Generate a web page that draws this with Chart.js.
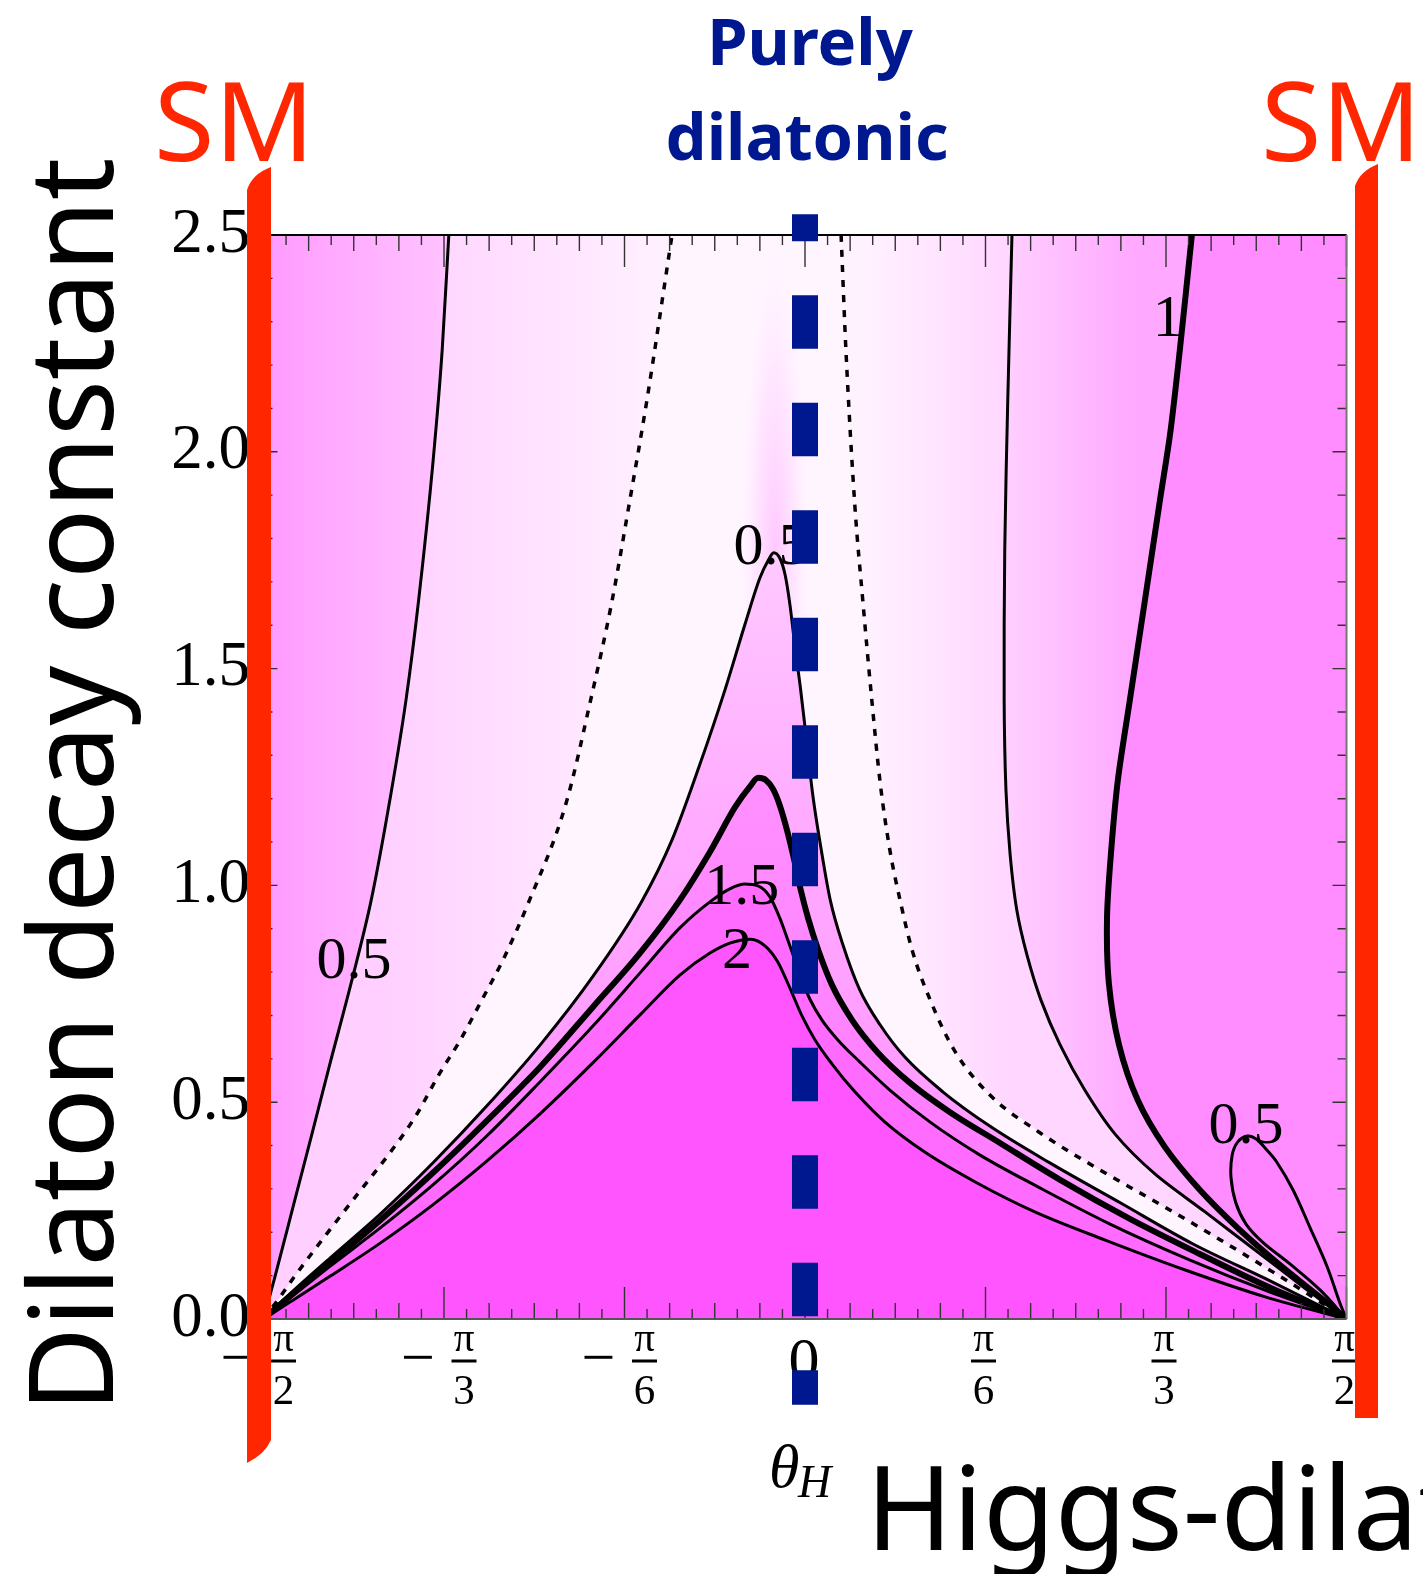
<!DOCTYPE html>
<html><head><meta charset="utf-8">
<script src="https://cdn.jsdelivr.net/npm/chart.js@4.4.1/dist/chart.umd.min.js"></script>
<style>html,body{margin:0;padding:0;background:#fff;overflow:hidden}#wrap{position:relative;width:1423px;height:1574px}</style>
</head><body><div id="wrap"><canvas id="c" width="1423" height="1574"></canvas></div>
<script>
// ---- axes (θ_H in degrees, dilaton decay constant) ----
const X_MIN = -90, X_MAX = 90, Y_MIN = 0, Y_MAX = 2.5;
const xTickValues = [-90, -60, -30, 0, 30, 60, 90];
const xTickNumer  = ['π', 'π', 'π', '0', 'π', 'π', 'π'];
const xTickDenom  = ['2', '3', '6', '', '6', '3', '2'];
const xTickNeg    = [true, true, true, false, false, false, false];
const yTickValues = [0, 0.5, 1, 1.5, 2, 2.5];
const yTickLabels = ['0.0', '0.5', '1.0', '1.5', '2.0', '2.5'];

// ---- contour curves [θ_H(deg), decay constant] ----
const contourA05 = [[-90,0],[-88.1,0.097],[-84.8,0.274],[-81.9,0.429],[-79.1,0.581],[-75.3,0.782],[-72.1,0.966],[-69.0,1.197],[-66.3,1.429],[-64.2,1.660],[-61.8,1.981],[-60.3,2.235],[-59.2,2.5]];
const dottedLeft = [[-90,0],[-87.6,0.044],[-84.9,0.097],[-79.4,0.198],[-73.8,0.298],[-69.0,0.383],[-64.8,0.466],[-60.7,0.567],[-57.3,0.643],[-53.7,0.736],[-50.2,0.828],[-46.0,0.959],[-39.7,1.190],[-35.6,1.429],[-32.1,1.654],[-29.1,1.889],[-26.3,2.117],[-22.1,2.5]];
const contourC05 = [[-90,0],[-85.6,0.058],[-78.9,0.141],[-70.6,0.242],[-61.7,0.362],[-52.9,0.491],[-43.9,0.634],[-35.1,0.793],[-27.3,0.959],[-22.1,1.105],[-17.5,1.278],[-13.3,1.451],[-10.0,1.601],[-7.5,1.709],[-6.1,1.750],[-5.2,1.767],[-4.2,1.755],[-3.3,1.716],[-2.5,1.647],[-1.7,1.554],[-0.8,1.460],[0,1.365],[1.3,1.208],[2.7,1.082],[4.2,0.966],[6.3,0.863],[9.1,0.759],[12.5,0.678],[16.6,0.604],[22.9,0.524],[30.7,0.445],[40.7,0.360],[52.4,0.268],[64.5,0.173],[77.3,0.088],[90,0]];
const contourG1 = [[-90,0],[-85.6,0.053],[-78.9,0.131],[-70.6,0.228],[-61.7,0.339],[-52.9,0.457],[-43.9,0.583],[-35.1,0.722],[-27.3,0.846],[-20.8,0.966],[-15.8,1.077],[-11.6,1.181],[-9.1,1.229],[-7.8,1.248],[-6.5,1.243],[-5.3,1.222],[-4.2,1.185],[-3.0,1.128],[-1.8,1.059],[-0.7,0.989],[0.5,0.925],[2.2,0.851],[4.5,0.770],[7.8,0.690],[12.0,0.616],[17.5,0.544],[24.1,0.477],[32.4,0.406],[42.4,0.321],[54.0,0.231],[65.6,0.150],[77.8,0.069],[90,0]];
const contourH15 = [[-90,0],[-85.6,0.048],[-78.9,0.122],[-70.6,0.210],[-61.7,0.311],[-52.9,0.422],[-43.9,0.549],[-35.1,0.678],[-27.3,0.800],[-20.8,0.902],[-15.8,0.962],[-12.5,0.992],[-10.0,1.003],[-7.8,0.999],[-5.8,0.973],[-4.2,0.925],[-2.5,0.860],[-0.8,0.793],[0.8,0.738],[2.8,0.690],[5.5,0.643],[9.1,0.593],[14.1,0.528],[20.8,0.454],[29.1,0.378],[39.1,0.302],[50.7,0.219],[64.0,0.136],[77.3,0.062],[90,0]];
const contourI2 = [[-90,0],[-85.6,0.039],[-78.9,0.099],[-70.6,0.175],[-61.7,0.265],[-52.9,0.364],[-43.9,0.475],[-35.1,0.593],[-27.3,0.703],[-20.8,0.793],[-15.8,0.844],[-12.5,0.867],[-9.0,0.876],[-6.6,0.860],[-4.5,0.823],[-2.5,0.763],[-0.5,0.699],[1.7,0.643],[4.5,0.588],[8.3,0.524],[13.3,0.454],[19.9,0.385],[28.3,0.316],[38.2,0.247],[49.9,0.182],[63.2,0.113],[76.5,0.051],[90,0]];
const dottedRight = [[6.0,2.5],[6.8,2.235],[8.3,1.873],[9.6,1.658],[11.1,1.428],[12.5,1.236],[14.1,1.082],[15.8,0.966],[17.8,0.851],[20.8,0.736],[24.8,0.620],[30.7,0.517],[39.1,0.429],[49.0,0.344],[60.7,0.251],[72.3,0.155],[82.3,0.069],[90,0]];
const contourE05 = [[34.4,2.5],[33.7,2.119],[33.2,1.774],[33.1,1.428],[33.4,1.220],[34.1,1.070],[35.2,0.943],[36.9,0.839],[39.2,0.736],[42.4,0.632],[46.5,0.528],[51.5,0.427],[58.2,0.334],[66.5,0.247],[74.8,0.159],[83.1,0.071],[90,0]];
const contourF1 = [[64.3,2.5],[62.3,2.235],[60.7,2.043],[59.0,1.889],[56.5,1.658],[54.0,1.428],[52.0,1.243],[50.9,1.082],[50.2,0.927],[50.5,0.775],[52.2,0.632],[55.3,0.505],[59.8,0.397],[65.6,0.298],[72.3,0.205],[78.9,0.125],[84.9,0.058],[90,0]];
const loop05 = [[90,0],[85.6,0.067],[80.6,0.127],[76.0,0.178],[73.3,0.219],[71.6,0.268],[70.8,0.327],[71.0,0.378],[71.9,0.408],[73.5,0.422],[75.0,0.415],[76.6,0.392],[78.4,0.362],[81.1,0.298],[83.9,0.212],[86.8,0.120],[88.9,0.037],[90,0]];

// ---- contour labels ----
const labelTexts = ['0.5', '0.5', '1', '1.5', '2', '0.5'];
const labelX     = [-74.95, -5.65, 60.3, -10.5, -11.3, 73.3];
const labelY     = [0.823, 1.778, 2.304, 0.994, 0.846, 0.443];

// ---- purely dilatonic marker (θ_H = 0) ----
const dilatonicLine = [[0, -0.198], [0, 2.548]];

const toPts = arr => arr.map(([x, y]) => ({x, y}));
const RED = '#ff2600', NAVY = '#00188f';

function lineDS(data, extra) {
  return Object.assign({data: toPts(data), showLine: true, pointRadius: 0, pointHoverRadius: 0,
    borderColor: '#000', borderWidth: 3, fill: false, cubicInterpolationMode: 'monotone', order: 10}, extra || {});
}
function fillDS(data, color, order, extra) {
  return Object.assign({data: toPts(data), showLine: true, pointRadius: 0, pointHoverRadius: 0, borderWidth: 0,
    borderColor: 'rgba(0,0,0,0)', backgroundColor: color, fill: 'shape', tension: 0, order}, extra || {});
}
function hGrad(x0, x1, stops, fallback) {
  return (ctx) => {
    const ch = ctx.chart; if (!ch.chartArea) return fallback;
    const xs = ch.scales.x;
    const g = ch.ctx.createLinearGradient(xs.getPixelForValue(x0), 0, xs.getPixelForValue(x1), 0);
    stops.forEach(([o, c]) => g.addColorStop(o, c));
    return g;
  };
}
function vGrad(y0, y1, stops, fallback) {
  return (ctx) => {
    const ch = ctx.chart; if (!ch.chartArea) return fallback;
    const ys = ch.scales.y;
    const g = ch.ctx.createLinearGradient(0, ys.getPixelForValue(y0), 0, ys.getPixelForValue(y1));
    stops.forEach(([o, c]) => g.addColorStop(o, c));
    return g;
  };
}
const mono = {cubicInterpolationMode: 'monotone'};

const cornerTL = [X_MIN, Y_MAX], cornerTR = [X_MAX, Y_MAX];
const datasets = [
  Object.assign(lineDS(dilatonicLine, {borderColor: NAVY, borderWidth: 26, borderDash: [53.5, 54], borderDashOffset: 19, borderCapStyle: 'butt', cubicInterpolationMode: 'default', tension: 0, clip: false}), {order: 0}),
  lineDS(contourA05),
  lineDS(dottedLeft, {borderDash: [7, 8], borderWidth: 3.5}),
  lineDS(contourC05),
  lineDS(contourG1, {borderWidth: 6}),
  lineDS(contourH15),
  lineDS(contourI2),
  lineDS(dottedRight, {borderDash: [7, 8], borderWidth: 3.5}),
  lineDS(contourE05, {cubicInterpolationMode: 'default', tension: 0.3}),
  lineDS(contourF1, {borderWidth: 6, cubicInterpolationMode: 'default', tension: 0.3}),
  lineDS(loop05, {cubicInterpolationMode: 'default', tension: 0.35}),
  fillDS(contourI2, '#ff55ff', 30, mono),
  fillDS(contourH15, '#ff6aff', 31, mono),
  fillDS(contourG1, vGrad(1.25, 0.3, [[0, '#ff90ff'], [1, '#ff7cff']], '#ff86ff'), 32, mono),
  fillDS(contourC05, vGrad(1.78, 0.6, [[0, '#ffcaff'], [0.5, '#ffadff'], [1, '#ff9cff']], '#ffb2ff'), 33, mono),
  fillDS(loop05, '#ff84ff', 34, {tension: 0.35}),
  fillDS([...contourF1, cornerTR], '#ff8dff', 35),
  fillDS([...contourE05, cornerTR], hGrad(33, 55, [[0, '#ffd0ff'], [1, '#ffa8ff']], '#ffc4ff'), 36),
  fillDS([...dottedRight, cornerTR], hGrad(10, 34, [[0, '#fff2ff'], [1, '#ffd6ff']], '#ffe4ff'), 37),
  fillDS([...contourA05, cornerTL], hGrad(-90, -60, [[0, '#ff9aff'], [1, '#ffc2ff']], '#ffb0ff'), 38),
  fillDS([...dottedLeft, cornerTL], hGrad(-70, -25, [[0, '#ffd0ff'], [1, '#fff0ff']], '#ffe2ff'), 39)
];

const decor = {
  id: 'decor',
  beforeDraw(chart) {
    const {ctx, chartArea: a} = chart;
    const xs = chart.scales.x, ys = chart.scales.y;
    ctx.save();
    ctx.fillStyle = '#fff5ff'; ctx.fillRect(a.left, a.top, a.right - a.left, a.bottom - a.top);
    // soft pink streak above the 0.5 peak
    const cx = xs.getPixelForValue(-5), cy = ys.getPixelForValue(1.75);
    ctx.beginPath(); ctx.rect(a.left, a.top, a.right - a.left, a.bottom - a.top); ctx.clip();
    ctx.translate(cx, cy); ctx.scale(1, 9);
    const g = ctx.createRadialGradient(0, 0, 0, 0, 0, 34);
    g.addColorStop(0, 'rgba(255,195,255,0.95)'); g.addColorStop(0.6, 'rgba(255,215,255,0.5)'); g.addColorStop(1, 'rgba(255,235,255,0)');
    ctx.fillStyle = g; ctx.beginPath(); ctx.arc(0, 0, 34, 0, Math.PI * 2); ctx.fill();
    ctx.restore();
  },
  beforeDatasetDraw(chart, args) {
    if (args.index !== 0) return;
    const {ctx, chartArea: a} = chart;
    const xs = chart.scales.x, ys = chart.scales.y;
    ctx.save();
    // ticks
    ctx.strokeStyle = '#333'; ctx.lineWidth = 1.4;
    ctx.beginPath();
    for (let k = 0; k <= 48; k++) {
      const v = X_MIN + k * 3.75;
      const px = xs.getPixelForValue(v);
      const len = (k % 8 === 0) ? 32 : (k % 2 === 0 ? 16 : 10);
      ctx.moveTo(px, a.bottom); ctx.lineTo(px, a.bottom - len);
      ctx.moveTo(px, a.top); ctx.lineTo(px, a.top + len);
    }
    for (let k = 0; k <= 25; k++) {
      const v = k * 0.1;
      const py = ys.getPixelForValue(v);
      const len = (k % 5 === 0) ? 14 : 9;
      ctx.moveTo(a.left, py); ctx.lineTo(a.left + len, py);
      ctx.moveTo(a.right, py); ctx.lineTo(a.right - len, py);
    }
    ctx.stroke();
    // frame
    ctx.lineWidth = 2;
    ctx.strokeStyle = '#000'; ctx.beginPath(); ctx.moveTo(a.left, a.top); ctx.lineTo(a.right, a.top); ctx.stroke();
    ctx.strokeStyle = '#777'; ctx.beginPath(); ctx.moveTo(a.right, a.top); ctx.lineTo(a.right, a.bottom); ctx.stroke();
    ctx.strokeStyle = '#555'; ctx.beginPath(); ctx.moveTo(a.left, a.bottom); ctx.lineTo(a.right, a.bottom); ctx.stroke();
    // y tick labels
    ctx.fillStyle = '#000';
    ctx.font = '63px "Liberation Serif"'; ctx.textAlign = 'right'; ctx.textBaseline = 'middle';
    yTickValues.forEach((v, i) => ctx.fillText(yTickLabels[i], 250, ys.getPixelForValue(v)));
    // x tick labels (fractions)
    xTickValues.forEach((v, i) => {
      const px = xs.getPixelForValue(v);
      ctx.textAlign = 'center'; ctx.textBaseline = 'middle';
      if (xTickDenom[i] === '') {
        ctx.font = '62px "Liberation Serif"';
        ctx.fillText(xTickNumer[i], px - 1, 1364);
        return;
      }
      const fx = xTickNeg[i] ? px + 20 : px - 2;
      ctx.font = '41px "Liberation Serif"';
      ctx.fillText(xTickNumer[i], fx, 1340);
      ctx.font = '43px "Liberation Serif"';
      ctx.fillText(xTickDenom[i], fx, 1393);
      ctx.fillRect(fx - 12.5, 1359.5, 25, 3);
      if (xTickNeg[i]) {
        ctx.font = '60px "Liberation Serif"';
        ctx.fillText('−', px - 26, 1361);
      }
    });
    // axis label θ_H
    ctx.textAlign = 'left'; ctx.textBaseline = 'alphabetic';
    ctx.font = 'italic 62px "Liberation Serif"'; ctx.fillText('θ', 769, 1487);
    ctx.font = 'italic 46px "Liberation Serif"'; ctx.fillText('H', 798, 1497);
    // contour labels
    ctx.font = '60px "Liberation Serif"'; ctx.textAlign = 'center'; ctx.textBaseline = 'middle';
    labelTexts.forEach((t, i) => ctx.fillText(t, xs.getPixelForValue(labelX[i]), ys.getPixelForValue(labelY[i])));
    ctx.restore();
  },
  afterDraw(chart) {
    const ctx = chart.ctx;
    ctx.save();
    // red SM bars
    ctx.fillStyle = RED;
    ctx.beginPath();
    ctx.moveTo(247, 1463); ctx.lineTo(247, 190); ctx.quadraticCurveTo(252, 174, 271, 167);
    ctx.lineTo(271, 1440); ctx.quadraticCurveTo(265, 1454, 247, 1463); ctx.closePath(); ctx.fill();
    ctx.beginPath();
    ctx.moveTo(1355, 1418); ctx.lineTo(1355, 186); ctx.quadraticCurveTo(1360, 171, 1378, 164);
    ctx.lineTo(1378, 1418); ctx.closePath(); ctx.fill();
    // SM labels
    ctx.font = '110px "Noto Sans"'; ctx.textAlign = 'left'; ctx.textBaseline = 'alphabetic';
    ctx.fillText('SM', 154, 161);
    ctx.fillText('SM', 1261, 161);
    // Purely dilatonic
    ctx.fillStyle = NAVY; ctx.font = 'bold 65px "Noto Sans"'; ctx.textAlign = 'center';
    ctx.fillText('Purely', 810, 65);
    ctx.fillText('dilatonic', 807, 160);
    // axis titles
    ctx.fillStyle = '#000'; ctx.font = '117px "Noto Sans"';
    ctx.save(); ctx.translate(113, 785); ctx.rotate(-Math.PI / 2); ctx.textAlign = 'center';
    ctx.fillText('Dilaton decay constant', 0, 0); ctx.restore();
    ctx.textAlign = 'left';
    ctx.fillText('Higgs-dilaton mixing angle', 866, 1550);
    ctx.restore();
  }
};

new Chart(document.getElementById('c'), {
  type: 'scatter',
  data: {datasets},
  options: {
    responsive: false, animation: false, devicePixelRatio: 1,
    layout: {padding: {left: 263.5, right: 76.5, top: 235, bottom: 255}},
    scales: {
      x: {type: 'linear', min: X_MIN, max: X_MAX, display: false},
      y: {type: 'linear', min: Y_MIN, max: Y_MAX, display: false}
    },
    plugins: {legend: {display: false}, tooltip: {enabled: false}},
    events: []
  },
  plugins: [decor]
});
</script></body></html>
